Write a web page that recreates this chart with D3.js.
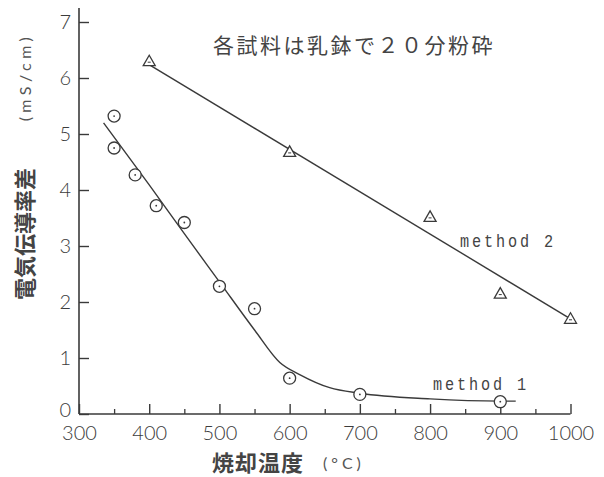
<!DOCTYPE html>
<html><head><meta charset="utf-8">
<script src="https://cdn.jsdelivr.net/npm/d3@7"></script>
<style>body{margin:0;background:#fff}</style>
</head><body>
<svg id="c" width="604" height="477"></svg>
<script>
// ---- data ----
const xTicks = [300,400,500,600,700,800,900,1000];
const xMinor = [350,450,550,650,750,850,950];
const yTicks = [0,1,2,3,4,5,6,7];
const m1Temp = [350,350,380,410,450,500,550,600,700,900];
const m1Val  = [5.32,4.75,4.27,3.72,3.42,2.28,1.88,0.64,0.35,0.22];
const m2Temp = [400,600,800,900,1000];
const m2Val  = [6.3,4.68,3.52,2.15,1.7];
// hand-drawn fit curves
const fit1Temp = [335,400,450,500,550,586,615,657,700,800,900,922];
const fit1Val  = [5.2,4.09,3.22,2.36,1.5,0.92,0.7,0.47,0.37,0.27,0.23,0.23];
const fit2Temp = [401,1000];
const fit2Val  = [6.23,1.7];
const title = "各試料は乳鉢で２０分粉砕";
const yLabel = "電気伝導率差";
const yUnit = "(mS/cm)";
const xLabel = "焼却温度";
const xUnit = "(°C)";
const label1 = "method 1", label2 = "method 2";

const ink = "#3a3a3a";
const svg = d3.select("#c");
const x = d3.scaleLinear().domain([300,1000]).range([79,570.5]);
const y = d3.scaleLinear().domain([0,7]).range([414,22]);
const tickFont = "Lato, 'Open Sans', sans-serif";

// axes lines
svg.append("line").attr("x1",x(300)).attr("x2",x(300)).attr("y1",8).attr("y2",y(0))
  .attr("stroke",ink).attr("stroke-width",1.6);
svg.append("line").attr("x1",x(300)).attr("x2",x(1000)).attr("y1",y(0)).attr("y2",y(0))
  .attr("stroke",ink).attr("stroke-width",1.6);

// y axis
const ya = svg.append("g").attr("transform",`translate(${x(300)},0)`)
  .call(d3.axisLeft(y).tickValues(yTicks).tickFormat(d3.format("d")).tickSizeInner(-10).tickSizeOuter(0).tickPadding(8));
ya.select(".domain").remove();
ya.selectAll("line").attr("stroke",ink).attr("stroke-width",1.4);
ya.selectAll("text").attr("font-family",tickFont).attr("font-weight",300).attr("font-size",20).attr("fill","#3c3c3c");
ya.selectAll("text").filter(d=>d===0).attr("dy","0.1em");

// x axis majors
const xa = svg.append("g").attr("transform",`translate(0,${y(0)})`)
  .call(d3.axisBottom(x).tickValues(xTicks).tickFormat(d3.format("d")).tickSizeInner(-10).tickSizeOuter(0).tickPadding(12));
xa.select(".domain").remove();
xa.selectAll("line").attr("stroke",ink).attr("stroke-width",1.4);
xa.selectAll("text").attr("font-family",tickFont).attr("font-weight",300).attr("font-size",20).attr("fill","#3c3c3c");
// x minor
const xm = svg.append("g").attr("transform",`translate(0,${y(0)})`)
  .call(d3.axisBottom(x).tickValues(xMinor).tickFormat("").tickSizeInner(-5).tickSizeOuter(0));
xm.select(".domain").remove();
xm.selectAll("line").attr("stroke",ink).attr("stroke-width",1.3);

// fit lines
const line = d3.line().x(d=>x(d[0])).y(d=>y(d[1]));
svg.append("path").datum(fit1Temp.map((t,i)=>[t,fit1Val[i]]))
  .attr("d",line.curve(d3.curveMonotoneX)).attr("fill","none").attr("stroke",ink).attr("stroke-width",1.4);
svg.append("path").datum(fit2Temp.map((t,i)=>[t,fit2Val[i]]))
  .attr("d",d3.line().x(d=>x(d[0])).y(d=>y(d[1]))).attr("fill","none").attr("stroke",ink).attr("stroke-width",1.4);

// method 1 circles
const g1 = svg.append("g");
m1Temp.forEach((t,i)=>{
  const cx=x(t), cy=y(m1Val[i]);
  g1.append("circle").attr("cx",cx).attr("cy",cy).attr("r",6).attr("fill","#fff").attr("stroke",ink).attr("stroke-width",1.3);
  g1.append("circle").attr("cx",cx).attr("cy",cy).attr("r",0.9).attr("fill",ink);
});
// method 2 triangles
const g2 = svg.append("g");
m2Temp.forEach((t,i)=>{
  const cx=x(t), cy=y(m2Val[i]);
  g2.append("path").attr("d",`M${cx-6},${cy+4.5}L${cx+6},${cy+4.5}L${cx},${cy-6}Z`)
    .attr("fill","#fff").attr("stroke",ink).attr("stroke-width",1.3);
  g2.append("line").attr("x1",cx-1.5).attr("x2",cx+1.5).attr("y1",cy+1).attr("y2",cy+1).attr("stroke",ink).attr("stroke-width",1);
});

// series labels (tall condensed typewriter look)
const mono = "'Liberation Mono','DejaVu Sans Mono',monospace";
svg.append("text").attr("transform","translate(460,247) scale(0.8,1)").text(label2)
  .attr("font-family",mono).attr("font-size",19).attr("letter-spacing",3.6).attr("fill","#444");
svg.append("text").attr("transform","translate(433,390) scale(0.8,1)").text(label1)
  .attr("font-family",mono).attr("font-size",19).attr("letter-spacing",3.6).attr("fill","#444");

// title
svg.append("text").attr("x",213).attr("y",53).text(title)
  .attr("font-family","'Noto Sans CJK JP',sans-serif").attr("font-size",21).attr("letter-spacing",2.5).attr("fill","#444");

// y label
svg.append("text").attr("transform","translate(33,234) rotate(-90)").attr("text-anchor","middle")
  .text(yLabel).attr("font-family","'Noto Sans CJK JP',sans-serif").attr("font-weight",700)
  .attr("font-size",22).attr("fill","#444");
svg.append("text").attr("transform","translate(31,77) rotate(-90)").attr("text-anchor","middle")
  .text(yUnit).attr("font-family",tickFont).attr("font-weight",400)
  .attr("font-size",16).attr("letter-spacing",4.5).attr("fill","#555");

// x label
svg.append("text").attr("x",212).attr("y",471).text(xLabel)
  .attr("font-family","'Noto Sans CJK JP',sans-serif").attr("font-weight",700)
  .attr("font-size",22).attr("letter-spacing",1).attr("fill","#444");
svg.append("text").attr("x",323).attr("y",469).text(xUnit)
  .attr("font-family",tickFont).attr("font-weight",400)
  .attr("font-size",16).attr("letter-spacing",4).attr("fill","#555");
</script>
</body></html>
